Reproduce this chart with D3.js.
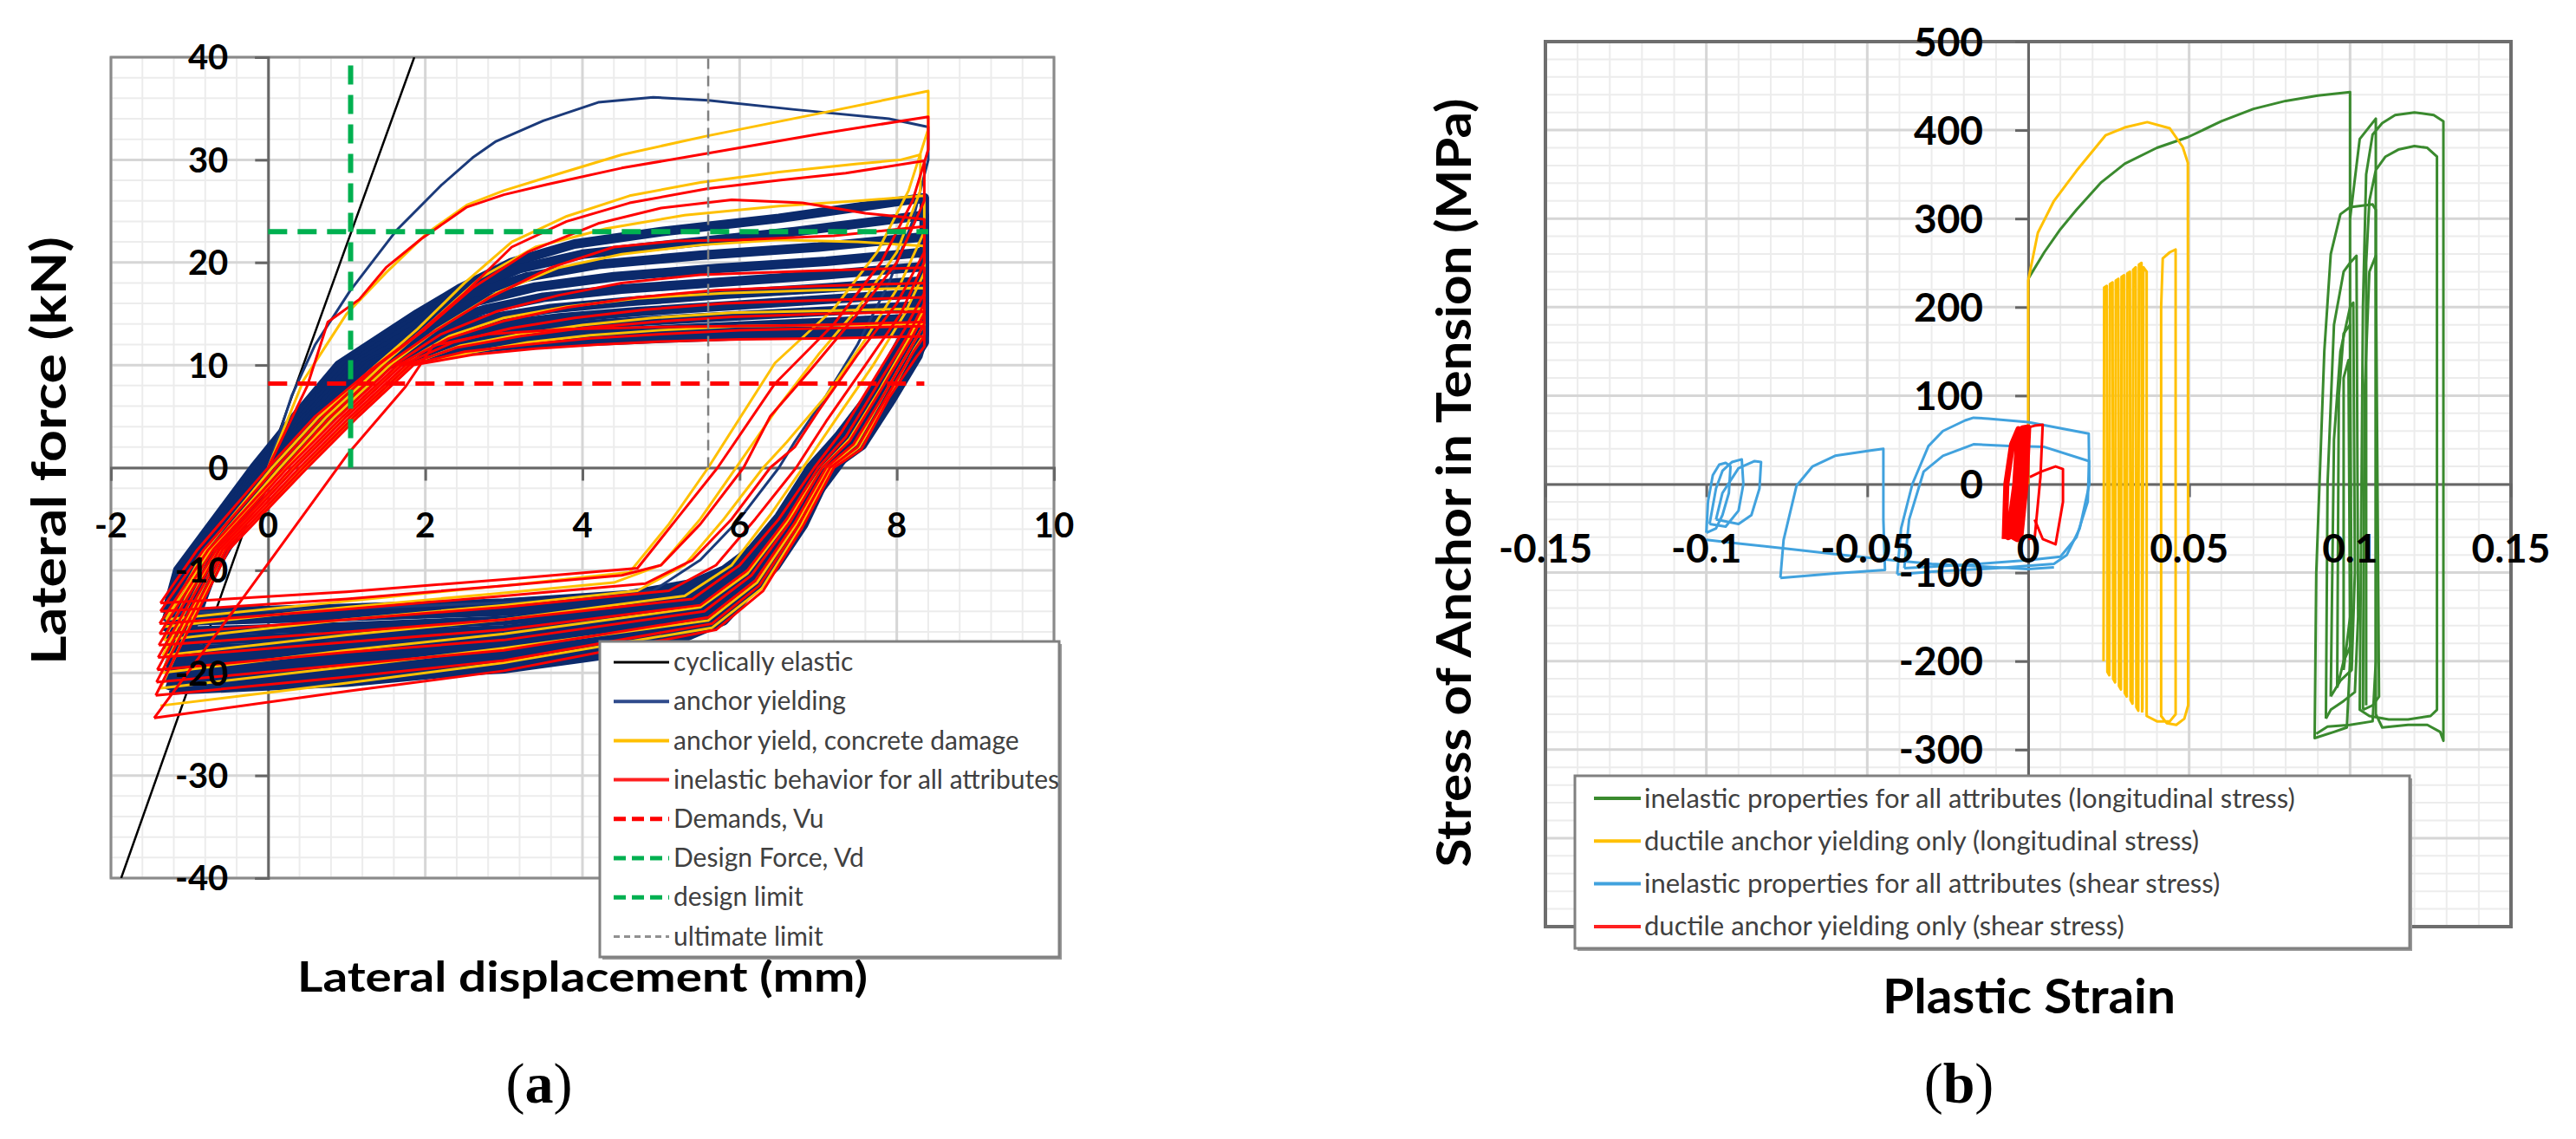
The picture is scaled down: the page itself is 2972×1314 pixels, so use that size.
<!DOCTYPE html>
<html>
<head>
<meta charset="utf-8">
<script src="https://cdn.jsdelivr.net/npm/d3@7"></script>
<style>
  body { margin: 0; background: #fff; }
</style>
</head>
<body>
<div id="chart"></div>
<script>
// ---------- panel (a): lateral displacement (mm) vs lateral force (kN)
const aXTicks = [-2, 0, 2, 4, 6, 8, 10];
const aYTicks = [-40, -30, -20, -10, 0, 10, 20, 30, 40];

const aElastic = [[[-1.87, -40], [0, 0.5], [1.86, 40]]];

const aAnchorEnvelope = [
  [[0,0],[0.3,7],[0.6,12],[1.04,17.2],[1.63,23.1],[2.2,27.5],[2.6,30.2],[2.9,31.8],[3.5,33.8],[4.2,35.6],[4.9,36.1],[5.6,35.8],[6.7,34.9],[7.9,34],[8.4,33.2],[8.4,30],[8.2,24],[7.9,18],[7.5,12],[7.1,7],[6.7,2.5],[6.5,0],[6,-5],[5.5,-9],[4.9,-12],[3.5,-13],[1.5,-13.6],[-1.3,-14.2]]
];

const aAnchorYielding = [
  [[-1.3,-14.2],[-1.15,-10],[-0.18,0],[0.35,5],[0.9,10],[1.9,15],[2.45,17.5],[3.1,20],[3.9,21.8],[5,23],[6.5,24.3],[8.35,26.3],[8.35,19],[8.1,13],[7.7,7.5],[7.25,3],[6.9,0],[6.5,-4.8],[6.15,-8],[5.8,-10],[5.4,-11.3],[4.6,-12.4],[3,-13.2],[1,-13.7],[-1.3,-14.2]],
  [[-1.3,-15],[-1.1,-10],[-0.15,0],[0.4,5],[0.97,10],[1.95,14.8],[2.5,17.2],[3.2,19.4],[4,20.8],[5.2,21.8],[6.7,23],[8.35,24.6],[8.35,18.5],[8.12,12.8],[7.73,7.4],[7.28,2.9],[6.93,0],[6.53,-4.9],[6.18,-8.2],[5.83,-10.3],[5.45,-11.8],[4.65,-13.1],[3,-14],[1,-14.5],[-1.3,-15]],
  [[-1.29,-16],[-1.04,-10],[-0.12,0],[0.45,5],[1.04,10],[2,14.6],[2.55,16.8],[3.3,18.6],[4.2,19.8],[5.5,20.7],[7,21.5],[8.35,22.5],[8.35,17.8],[8.14,12.6],[7.76,7.3],[7.32,2.8],[6.97,0],[6.57,-5],[6.22,-8.4],[5.88,-10.6],[5.5,-12.3],[4.7,-13.8],[3,-14.9],[1,-15.5],[-1.29,-16]],
  [[-1.29,-16.9],[-0.99,-10],[-0.09,0],[0.5,5],[1.1,10],[2.05,14.3],[2.65,16.2],[3.4,17.6],[4.4,18.6],[5.7,19.4],[7.1,20.1],[8.35,21],[8.35,17],[8.16,12.3],[7.79,7.2],[7.36,2.7],[7,0],[6.61,-5.1],[6.26,-8.6],[5.92,-10.9],[5.55,-12.8],[4.75,-14.5],[3,-15.8],[1,-16.4],[-1.29,-16.9]],
  [[-1.28,-17.8],[-0.94,-10],[-0.06,0],[0.55,5],[1.17,10],[2.1,13.9],[2.75,15.4],[3.5,16.6],[4.5,17.4],[5.8,18.1],[7.1,18.8],[8.35,19.6],[8.35,16.2],[8.18,12],[7.82,7.1],[7.4,2.6],[7.04,0],[6.65,-5.2],[6.3,-8.8],[5.96,-11.2],[5.6,-13.3],[4.8,-15.2],[3,-16.6],[1,-17.3],[-1.28,-17.8]],
  [[-1.28,-18.6],[-0.89,-10],[-0.03,0],[0.6,5],[1.24,10],[2.15,13.4],[2.85,14.6],[3.6,15.5],[4.6,16.2],[5.8,16.9],[7.1,17.5],[8.35,18.2],[8.35,15.4],[8.2,11.8],[7.85,7],[7.44,2.5],[7.07,0],[6.69,-5.3],[6.34,-9],[6,-11.5],[5.65,-13.8],[4.85,-15.9],[3,-17.4],[1,-18.1],[-1.28,-18.6]],
  [[-1.27,-19.4],[-0.84,-10],[0,0],[0.65,5],[1.3,10],[2.2,12.9],[2.95,13.9],[3.7,14.6],[4.7,15.2],[5.9,15.8],[7.1,16.4],[8.35,17],[8.35,14.6],[8.22,11.5],[7.88,6.9],[7.48,2.4],[7.1,0],[6.73,-5.4],[6.38,-9.2],[6.04,-11.8],[5.7,-14.2],[4.9,-16.5],[3,-18.2],[1,-18.9],[-1.27,-19.4]],
  [[-1.27,-20.2],[-0.79,-10],[0.03,0],[0.7,5],[1.37,10],[2.25,12.4],[3,13.2],[3.8,13.8],[4.8,14.3],[6,14.8],[7.2,15.3],[8.35,15.8],[8.35,13.8],[8.24,11.2],[7.91,6.8],[7.52,2.3],[7.13,0],[6.77,-5.5],[6.42,-9.4],[6.08,-12],[5.75,-14.6],[4.95,-17],[3,-18.9],[1,-19.7],[-1.27,-20.2]],
  [[-1.26,-21],[-0.74,-10],[0.07,0],[0.75,5],[1.44,10],[2.3,11.9],[3.1,12.6],[3.9,13],[4.9,13.4],[6,13.8],[7.2,14.2],[8.35,14.6],[8.35,13],[8.27,10.9],[7.94,6.7],[7.56,2.2],[7.16,0],[6.81,-5.6],[6.46,-9.6],[6.12,-12.2],[5.8,-14.9],[5,-17.5],[3,-19.6],[1,-20.5],[-1.26,-21]],
  [[-1.26,-21.7],[-0.7,-10],[0.1,0],[0.8,5],[1.5,10],[2.35,11.4],[3.2,12],[4,12.3],[5,12.6],[6.1,12.9],[7.2,13.1],[8.35,13.4],[8.35,12.2],[8.08,9],[7.23,0],[6.45,-8],[6.1,-10.3],[5.72,-12.2],[5,-15.4],[4,-17.9],[3,-19.5],[1,-20.9],[-1.26,-21.7]]
];

const aConcreteDamage = [
  [[0,0],[0.45,8.5],[1,15],[1.5,19],[2.03,22.9],[2.53,25.6],[3,27],[3.55,28.3],[4.5,30.5],[5.57,32.3],[7,34.5],[8.4,36.7],[8.4,33],[8.15,27],[7.75,21],[7.2,15.5],[6.45,10.2],[5.6,0],[5.1,-5.5],[4.6,-10.2],[3,-11.5],[1,-13],[-1.3,-14.8]],
  [[-1.3,-14.8],[-0.8,-8],[0.05,0],[0.65,5],[1.3,9.5],[1.9,13.5],[2.5,18],[3.1,22],[3.8,24.5],[4.6,26.5],[5.5,27.8],[6.5,28.8],[7.5,29.6],[8.05,30],[8.3,30.5],[8.3,27],[8,21],[7.5,15.5],[7,11],[6.5,6],[6,0.5],[5.5,-5],[5,-9.5],[4.4,-11.2],[3,-12.2],[1,-13.6],[-1.32,-15.5]],
  [[-1.32,-15.5],[-0.75,-8],[0.15,0],[0.75,5],[1.45,10],[2.05,14],[2.7,18.5],[3.4,21.5],[4.3,23.3],[5.3,24.6],[6.5,25.5],[7.5,26],[8.35,26.5],[8.35,23],[8.05,18],[7.6,12.5],[7.1,7],[6.6,2.5],[6.3,0],[5.8,-5],[5.3,-9.5],[4.7,-12],[3,-13.4],[1,-14.8],[-1.33,-16.8]],
  [[-1.33,-16.8],[-0.72,-8],[0.22,0],[0.85,5],[1.55,10],[2.15,13.5],[2.9,17],[3.7,19.5],[4.5,20.8],[5.5,21.7],[6.5,22.2],[7.5,22],[8.35,21.6],[8.35,19],[8.1,15],[7.7,10],[7.25,5],[6.85,0.5],[6.4,-4.5],[5.9,-9.5],[5.3,-12.5],[3,-14.8],[1,-16.3],[-1.34,-18.3]],
  [[-1.34,-18.3],[-0.66,-8],[0.32,0],[0.97,5],[1.68,10],[2.3,12.8],[3,14.6],[3.8,15.7],[4.7,16.5],[5.8,17],[7,17.3],[8.35,17.5],[8.35,15.5],[8.15,12.5],[7.8,7.8],[7.4,2.8],[7.05,0],[6.6,-5.3],[6.1,-10.3],[5.5,-13.6],[3,-16.2],[1,-17.8],[-1.36,-20]],
  [[-1.36,-20],[-0.6,-8],[0.42,0],[1.07,5],[1.78,10],[2.45,11.9],[3.2,13],[4,13.9],[4.9,14.6],[5.9,15.1],[7.1,15.3],[8.35,15.5],[8.35,14],[8.2,12],[7.85,7.3],[7.48,2.3],[7.12,0],[6.72,-5.5],[6.22,-11.2],[5.6,-14.9],[3,-17.6],[1,-19.4],[-1.37,-21.5]],
  [[-1.37,-21.5],[-0.55,-8],[0.48,0],[1.12,5],[1.83,10],[2.55,11.2],[3.3,12.2],[4.1,12.9],[5,13.4],[6,13.8],[7.2,13.9],[8.35,14],[8.35,13],[8.22,11.5],[7.9,7],[7.52,2],[7.17,0],[6.78,-5.7],[6.28,-11.8],[5.65,-15.6],[3,-19],[1,-21],[-1.37,-23.2]]
];

const aInelastic = [
  [[0,0],[0.5,8],[0.76,14.2],[1.16,16.4],[1.5,19.5],[1.95,22.3],[2.53,25.4],[3,26.6],[3.55,27.6],[4.5,29.2],[5.57,30.6],[7,32.5],[8.4,34.2],[8.4,31],[8.2,26],[7.8,20],[7.2,14],[6.45,8.2],[5.72,0],[5.2,-5],[4.7,-9.8],[3,-10.9],[1,-12.1],[-1.37,-13.2]],
  [[-1.37,-13.2],[-0.9,-8],[0,0],[0.6,5],[1.3,9.5],[1.9,13],[2.5,17],[3.1,21.5],[3.8,24],[4.6,25.8],[5.6,27.2],[6.5,28],[7.35,28.7],[8.35,29.9],[8.35,26],[8,20],[7.5,15],[6.9,9.5],[6.39,5],[6.05,0],[5.5,-5.5],[5,-9.5],[4.5,-10.5],[3,-11.5],[1,-12.8],[-1.37,-14]],
  [[-1.37,-14],[-0.82,-8],[0.1,0],[0.7,5],[1.4,10],[2,13.5],[2.6,17.5],[3.3,21],[4.2,23.8],[5,25.3],[5.9,26.1],[6.8,25.8],[7.6,24.8],[8.35,24.2],[8.35,21],[8,16],[7.5,11],[7,5.5],[6.7,2],[6.39,0],[5.9,-5],[5.4,-9],[4.8,-11.3],[3,-12.5],[1,-13.8],[-1.38,-15.2]],
  [[-1.38,-15.2],[-0.76,-8],[0.2,0],[0.8,5],[1.5,10],[2.1,13.2],[2.8,16.5],[3.6,19.5],[4.4,21.5],[5.2,22.1],[6,22.2],[7.2,22.6],[8.35,23.5],[8.35,20],[8.05,15],[7.6,10],[7.1,4.5],[6.72,0],[6.2,-5],[5.7,-9.5],[5.1,-12],[3,-13.6],[1,-14.8],[-1.38,-16.2]],
  [[-1.38,-16.2],[-0.7,-8],[0.25,0],[0.9,5],[1.6,10],[2.2,13],[2.9,15.2],[3.7,16.8],[4.5,18],[5.5,18.8],[7,19.2],[8.35,19.5],[8.35,17],[8.1,13.5],[7.7,8.5],[7.3,3.5],[6.95,0],[6.5,-5],[6,-9.5],[5.4,-12.8],[3,-14.8],[1,-16],[-1.39,-17.3]],
  [[-1.39,-17.3],[-0.66,-8],[0.3,0],[0.95,5],[1.65,10],[2.3,12.6],[3,14.3],[3.8,15.6],[4.7,16.6],[5.7,17.3],[7,17.7],[8.35,18],[8.35,16],[8.15,13],[7.75,8],[7.35,3],[7,0],[6.6,-5],[6.1,-10],[5.5,-13.4],[3,-15.8],[1,-17],[-1.4,-18.5]],
  [[-1.4,-18.5],[-0.62,-8],[0.35,0],[1,5],[1.7,10],[2.35,12.2],[3.1,13.6],[3.9,14.6],[4.8,15.4],[5.8,16],[7,16.3],[8.35,16.6],[8.35,15],[8.18,12.5],[7.8,7.6],[7.4,2.6],[7.05,0],[6.65,-5.2],[6.15,-10.5],[5.55,-14],[3,-16.8],[1,-18],[-1.41,-19.7]],
  [[-1.41,-19.7],[-0.58,-8],[0.4,0],[1.05,5],[1.75,10],[2.4,11.7],[3.2,12.8],[4,13.6],[4.9,14.2],[5.9,14.7],[7.1,15],[8.35,15.2],[8.35,14],[8.2,12],[7.85,7.3],[7.45,2.3],[7.1,0],[6.7,-5.4],[6.2,-11],[5.6,-14.6],[3,-17.8],[1,-19.2],[-1.42,-20.9]],
  [[-1.42,-20.9],[-0.54,-8],[0.45,0],[1.1,5],[1.8,10],[2.5,11.3],[3.3,12],[4.1,12.6],[5,13],[6,13.4],[7.2,13.6],[8.35,13.8],[8.35,12.8],[8.22,11.4],[7.88,7],[7.5,2],[7.15,0],[6.75,-5.6],[6.25,-11.5],[5.65,-15.2],[3,-18.8],[1,-20.4],[-1.43,-22.2]],
  [[-1.43,-22.2],[-0.5,-8],[0.5,0],[1.15,5],[1.85,10],[2.6,11],[3.4,11.6],[4.2,12],[5,12.3],[6,12.5],[7.2,12.6],[8.35,12.8],[8.35,11.8],[8.25,10.8],[7.9,6.8],[7.55,1.8],[7.2,0],[6.8,-5.8],[6.3,-12],[5.7,-15.8],[3,-19.8],[1,-21.8],[-1.45,-24.4]],
  [[-1.45,-24.4],[-0.33,-12.8],[0.07,-8.6],[1,1.2],[1.75,7.9],[2.1,11.9],[2.8,13],[3.8,13.5],[5,13.7],[7,13.9],[8.35,14.2]]
];

const aDemand = 8.2;        // Demands, Vu (kN)
const aDesignForce = 23;    // Design Force, Vd (kN)
const aDesignLimit = 1.05;  // mm
const aUltimateLimit = 5.6; // mm

const aLegendLabels = ["cyclically elastic", "anchor yielding", "anchor yield, concrete damage",
  "inelastic behavior for all attributes", "Demands, Vu", "Design Force, Vd", "design limit", "ultimate limit"];

// ---------- panel (b): plastic strain vs stress of anchor in tension (MPa)
const bXTicks = [-0.15, -0.1, -0.05, 0, 0.05, 0.1, 0.15];
const bYTicks = [-500, -400, -300, -200, -100, 0, 100, 200, 300, 400, 500];
const bYLabels = [-300, -200, -100, 0, 100, 200, 300, 400, 500]; // -400 and -500 sit under the legend

const bLongInelastic = [
  [[0,232],[0.005,262],[0.01,288],[0.015,310],[0.0227,341],[0.03,362],[0.04,380],[0.0496,392],[0.06,410],[0.07,424],[0.08,433],[0.09,439],[0.1,443],[0.1,-200],[0.099,-275],[0.095,-280],[0.089,-287],[0.0895,-100],[0.092,150],[0.094,260],[0.097,305],[0.1,313],[0.107,316],[0.108,310],[0.108,-200],[0.107,-268],[0.1,-272],[0.093,-274],[0.0895,-282]],
  [[0.1,300],[0.103,390],[0.108,413],[0.108,-260],[0.11,-275],[0.118,-272],[0.124,-272],[0.128,-280],[0.129,-290],[0.129,300],[0.129,410],[0.126,417],[0.12,420],[0.114,417],[0.11,408],[0.107,395],[0.105,350],[0.104,200],[0.103,-255],[0.106,-262],[0.112,-266],[0.118,-266],[0.125,-262],[0.127,-255],[0.127,370],[0.124,380],[0.12,382],[0.115,378],[0.111,370],[0.108,355],[0.106,320],[0.105,250],[0.105,-250]],
  [[0.0925,-265],[0.093,0],[0.095,180],[0.098,240],[0.1,250],[0.102,258],[0.1025,-150],[0.1015,-235],[0.098,-245],[0.094,-255],[0.0925,-265]],
  [[0.094,-240],[0.095,50],[0.097,150],[0.1,200],[0.101,205],[0.1015,-100],[0.1005,-210],[0.097,-222],[0.094,-240]],
  [[0.096,-230],[0.0965,100],[0.098,170],[0.1,180],[0.1005,-180],[0.098,-200],[0.096,-230]],
  [[0.098,-210],[0.098,120],[0.0995,140],[0.1,-150],[0.098,-210]],
  [[0.104,-255],[0.1045,100],[0.106,240],[0.108,258],[0.109,-240],[0.107,-250],[0.104,-255]]
];

const bLongDuctile = [
  [[0,0],[0,230],[0.003,284],[0.008,320],[0.015,354],[0.024,394],[0.03,403],[0.037,409],[0.044,402],[0.048,381],[0.0496,363],[0.0497,-250],[0.0485,-265],[0.046,-272],[0.043,-270],[0.0413,-262],[0.0413,200],[0.0418,255],[0.044,262],[0.0458,265],[0.0458,-260],[0.044,-268],[0.04,-268],[0.0368,-262],[0.0368,240],[0.0358,245],[0.0355,-255]],
  [[0.0234,-200],[0.0236,222],[0.0244,224],[0.0246,-212],[0.0252,-216],[0.0254,226],[0.0262,228],[0.0264,-220],[0.027,-224],[0.0272,230],[0.028,232],[0.0282,-228],[0.0288,-232],[0.029,234],[0.0298,236],[0.03,-236],[0.0306,-240],[0.0308,238],[0.0316,240],[0.0318,-244],[0.0324,-248],[0.0326,242],[0.0334,245],[0.0336,-252],[0.0342,-256],[0.0344,248],[0.0352,250],[0.0354,-258]]
];

const bShearInelastic = [
  [[-0.1,-55],[-0.0995,-20],[-0.098,10],[-0.096,22],[-0.094,24],[-0.0925,20],[-0.093,-10],[-0.095,-35],[-0.097,-50],[-0.1,-55]],
  [[-0.099,-45],[-0.097,-5],[-0.095,15],[-0.092,25],[-0.089,28],[-0.0885,0],[-0.09,-30],[-0.094,-48],[-0.099,-45]],
  [[-0.097,-40],[-0.095,-10],[-0.09,18],[-0.085,26],[-0.083,25],[-0.0835,-5],[-0.086,-35],[-0.09,-45],[-0.097,-40]],
  [[-0.1,-63],[-0.09,-67],[-0.075,-73],[-0.06,-79],[-0.045,-85],[-0.03,-90],[-0.015,-93],[0,-96],[0.008,-94]],
  [[-0.077,-106],[-0.076,-63],[-0.072,-2],[-0.067,20],[-0.06,32],[-0.049,38],[-0.045,40],[-0.045,-40],[-0.0445,-97],[-0.06,-101],[-0.077,-106]],
  [[-0.0407,-102],[-0.0395,-50],[-0.036,0],[-0.031,43],[-0.0265,60],[-0.0196,72],[-0.017,75],[-0.0124,74],[0,70],[0.0188,57],[0.019,0],[0.016,-50],[0.012,-80],[0.008,-90],[-0.01,-95],[-0.03,-99],[-0.0407,-102]],
  [[-0.0385,-95],[-0.037,-40],[-0.0325,14],[-0.0265,32],[-0.017,45],[-0.006,43],[0.005,42],[0.0189,26],[0.0185,-20],[0.015,-60],[0.01,-82],[0,-86],[-0.015,-90],[-0.0385,-95]]
];

const bShearDuctileCore = [
  [[-0.0073,-62],[-0.0068,0],[-0.005,45],[-0.003,62],[-0.004,0],[-0.0062,-60],[-0.0052,-58],[-0.0032,0],[-0.0018,63],[-0.0002,64],[-0.002,0],[-0.0045,-60],[-0.0035,-62],[-0.0012,0],[0,64],[-0.0008,0],[-0.0025,-62]]
];

const bShearDuctile = [
  [[0,64],[0.002,66],[0.0045,67],[0.0038,8],[0.002,-61],[0,-62]],
  [[0.0005,8],[0.004,14],[0.0085,20],[0.0108,17],[0.0108,-20],[0.0085,-68],[0.0045,-62],[0.002,-40]]
];

const bLegendLabels = ["inelastic properties for all attributes (longitudinal stress)",
  "ductile anchor yielding only (longitudinal stress)",
  "inelastic properties for all attributes (shear stress)",
  "ductile anchor yielding only (shear stress)"];

// ---------- drawing
const width = 2972, height = 1314;
const sans = "Lato, 'DejaVu Sans', sans-serif";

const svg = d3.select("#chart").append("svg")
  .attr("width", width)
  .attr("height", height)
  .style("display", "block");

svg.append("rect").attr("width", width).attr("height", height).attr("fill", "#fff");

function drawPanel(p) {
  const x = d3.scaleLinear().domain(p.xDomain).range([p.left, p.right]);
  const y = d3.scaleLinear().domain(p.yDomain).range([p.bottom, p.top]);
  const g = svg.append("g");

  // minor and major grid
  g.append("g").selectAll("line").data(p.xMinor).join("line")
    .attr("x1", d => x(d)).attr("x2", d => x(d)).attr("y1", p.top).attr("y2", p.bottom)
    .attr("stroke", "#ececec").attr("stroke-width", 2);
  g.append("g").selectAll("line").data(p.yMinor).join("line")
    .attr("y1", d => y(d)).attr("y2", d => y(d)).attr("x1", p.left).attr("x2", p.right)
    .attr("stroke", "#ececec").attr("stroke-width", 2);
  g.append("g").selectAll("line").data(p.xTicks).join("line")
    .attr("x1", d => x(d)).attr("x2", d => x(d)).attr("y1", p.top).attr("y2", p.bottom)
    .attr("stroke", "#d6d6d6").attr("stroke-width", 3);
  g.append("g").selectAll("line").data(p.yTicks).join("line")
    .attr("y1", d => y(d)).attr("y2", d => y(d)).attr("x1", p.left).attr("x2", p.right)
    .attr("stroke", "#d6d6d6").attr("stroke-width", 3);

  // plot border
  g.append("rect")
    .attr("x", p.left).attr("y", p.top)
    .attr("width", p.right - p.left).attr("height", p.bottom - p.top)
    .attr("fill", "none").attr("stroke", p.borderColor).attr("stroke-width", p.borderWidth);

  // axes through the origin
  const yAxis = d3.axisLeft(y).tickValues(p.yTicks).tickSize(15);
  const xAxis = d3.axisBottom(x).tickValues(p.xTicks).tickSize(15);

  const gy = g.append("g").attr("transform", `translate(${x(0)},0)`).call(yAxis);
  const gx = g.append("g").attr("transform", `translate(0,${y(0)})`).call(xAxis);
  [gy, gx].forEach(a => {
    a.select(".domain").attr("stroke", "#666").attr("stroke-width", 3);
    a.selectAll(".tick line").attr("stroke", "#666").attr("stroke-width", 3);
    a.selectAll(".tick text").remove();
  });

  // curves
  const clipId = "clip-" + p.name;
  svg.append("clipPath").attr("id", clipId).append("rect")
    .attr("x", p.left).attr("y", p.top)
    .attr("width", p.right - p.left).attr("height", p.bottom - p.top);

  const line = d3.line().x(d => x(d[0])).y(d => y(d[1]));
  const curves = g.append("g").attr("clip-path", `url(#${clipId})`);

  p.series.forEach(s => {
    if (s.loops) {
      curves.append("g").selectAll("path").data(s.loops).join("path")
        .attr("d", line)
        .attr("fill", "none")
        .attr("stroke", s.color)
        .attr("stroke-width", s.width)
        .attr("stroke-linejoin", "round");
    } else if (s.hline !== undefined) {
      curves.append("line")
        .attr("x1", x(s.from)).attr("x2", x(s.to))
        .attr("y1", y(s.hline)).attr("y2", y(s.hline))
        .attr("stroke", s.color).attr("stroke-width", s.width)
        .attr("stroke-dasharray", s.dash);
    } else if (s.vline !== undefined) {
      curves.append("line")
        .attr("x1", x(s.vline)).attr("x2", x(s.vline))
        .attr("y1", y(s.from)).attr("y2", y(s.to))
        .attr("stroke", s.color).attr("stroke-width", s.width)
        .attr("stroke-dasharray", s.dash);
    }
  });

  // tick labels
  g.append("g").selectAll("text").data(p.yLabels).join("text")
    .attr("x", x(0) - p.yLabelGap)
    .attr("y", d => y(d))
    .attr("dy", "0.36em")
    .attr("text-anchor", "end")
    .style("font-family", sans)
    .attr("font-size", p.tickFont)
    .attr("font-weight", "bold")
    .attr("fill", "#000")
    .text(d => String(d));

  g.append("g").selectAll("text").data(p.xTicks).join("text")
    .attr("x", d => x(d))
    .attr("y", y(0) + p.xLabelGap)
    .attr("dy", "0.36em")
    .attr("text-anchor", "middle")
    .style("font-family", sans)
    .attr("font-size", p.tickFont)
    .attr("font-weight", "bold")
    .attr("fill", "#000")
    .text(d => String(d));

  // axis titles
  g.append("text")
    .attr("transform", `translate(${p.yTitleX},${p.yTitleY}) rotate(-90)`)
    .attr("text-anchor", "middle")
    .attr("dy", "0.36em")
    .style("font-family", sans)
    .attr("font-weight", "bold")
    .attr("font-size", p.yTitleSize)
    .attr("textLength", p.yTitleLength)
    .attr("lengthAdjust", "spacingAndGlyphs")
    .text(p.yTitle);

  g.append("text")
    .attr("x", p.xTitleX).attr("y", p.xTitleY)
    .attr("text-anchor", "middle")
    .style("font-family", sans)
    .attr("font-weight", "bold")
    .attr("font-size", p.xTitleSize)
    .attr("textLength", p.xTitleLength)
    .attr("lengthAdjust", "spacingAndGlyphs")
    .text(p.xTitle);

  // legend
  const L = p.legend;
  const lg = g.append("g");
  lg.append("rect")
    .attr("x", L.x + 3).attr("y", L.y + 3).attr("width", L.w).attr("height", L.h)
    .attr("fill", "#9a9a9a");
  lg.append("rect")
    .attr("x", L.x).attr("y", L.y).attr("width", L.w).attr("height", L.h)
    .attr("fill", "#fff").attr("stroke", "#808080").attr("stroke-width", 3);

  const rows = lg.selectAll("g.row").data(L.items).join("g")
    .attr("transform", (d, i) => `translate(0,${L.firstRow + i * L.rowStep})`);
  rows.append("line")
    .attr("x1", L.lineX1).attr("x2", L.lineX2)
    .attr("stroke", d => d.color)
    .attr("stroke-width", d => d.lw)
    .attr("stroke-dasharray", d => d.dash || null);
  rows.append("text")
    .attr("x", L.textX)
    .attr("dy", "0.34em")
    .style("font-family", sans)
    .attr("font-size", L.fontSize)
    .attr("fill", "#404040")
    .text(d => d.label);

  // caption
  const cap = g.append("text")
    .attr("x", p.capX).attr("y", p.capY)
    .attr("text-anchor", "middle")
    .style("font-family", "'Liberation Serif', 'DejaVu Serif', serif")
    .attr("font-size", 66);
  cap.append("tspan").text("(");
  cap.append("tspan").attr("font-weight", "bold").text(p.caption);
  cap.append("tspan").text(")");
}

drawPanel({
  name: "a",
  xDomain: [-2, 10], yDomain: [-40, 40],
  left: 128, right: 1216, top: 66, bottom: 1013,
  xTicks: aXTicks, yTicks: aYTicks, yLabels: aYTicks,
  xMinor: d3.range(-2, 10.001, 0.4), yMinor: d3.range(-40, 40.001, 2),
  borderColor: "#8a8a8a", borderWidth: 3,
  tickFont: 40, yLabelGap: 46, xLabelGap: 66,
  series: [
    { loops: aElastic, color: "#000", width: 2.5 },
    { loops: aAnchorYielding, color: "#0b2a6c", width: 11 },
    { loops: aAnchorEnvelope, color: "#1b3a7a", width: 3 },
    { loops: aConcreteDamage, color: "#ffc000", width: 3 },
    { loops: aInelastic, color: "#ff0000", width: 3 },
    { hline: aDemand, from: 0, to: 8.35, color: "#ff0000", width: 5, dash: "22 12" },
    { hline: aDesignForce, from: 0, to: 8.4, color: "#00b050", width: 6, dash: "22 12" },
    { vline: aDesignLimit, from: 0, to: 40, color: "#00b050", width: 6, dash: "22 12" },
    { vline: aUltimateLimit, from: 0, to: 40, color: "#808080", width: 2.5, dash: "12 8" }
  ],
  yTitle: "Lateral force (kN)", yTitleX: 56, yTitleY: 520, yTitleSize: 56, yTitleLength: 494,
  xTitle: "Lateral displacement (mm)", xTitleX: 672, xTitleY: 1144, xTitleSize: 47, xTitleLength: 658,
  legend: {
    x: 692, y: 740, w: 530, h: 364,
    firstRow: 764, rowStep: 45.2,
    lineX1: 708, lineX2: 772, textX: 777, fontSize: 30,
    items: [
      { label: aLegendLabels[0], color: "#000", lw: 3 },
      { label: aLegendLabels[1], color: "#2f4b8c", lw: 4 },
      { label: aLegendLabels[2], color: "#ffc000", lw: 4 },
      { label: aLegendLabels[3], color: "#ff2020", lw: 4 },
      { label: aLegendLabels[4], color: "#ff0000", lw: 5, dash: "14 7" },
      { label: aLegendLabels[5], color: "#00b050", lw: 5, dash: "14 7" },
      { label: aLegendLabels[6], color: "#00b050", lw: 5, dash: "14 7" },
      { label: aLegendLabels[7], color: "#909090", lw: 3, dash: "7 5" }
    ]
  },
  caption: "a", capX: 622, capY: 1272
});

drawPanel({
  name: "b",
  xDomain: [-0.15, 0.15], yDomain: [-500, 500],
  left: 1783, right: 2897, top: 48, bottom: 1069,
  xTicks: bXTicks, yTicks: bYTicks, yLabels: bYLabels,
  xMinor: d3.range(-0.15, 0.1501, 0.01), yMinor: d3.range(-500, 501, 20),
  borderColor: "#6e6e6e", borderWidth: 4,
  tickFont: 46, yLabelGap: 52, xLabelGap: 74,
  series: [
    { loops: bLongInelastic, color: "#3a8a2e", width: 3 },
    { loops: bLongDuctile, color: "#ffc000", width: 3 },
    { loops: bShearInelastic, color: "#41a2de", width: 3 },
    { loops: bShearDuctileCore, color: "#ff0000", width: 7 },
    { loops: bShearDuctile, color: "#ff0000", width: 3 }
  ],
  yTitle: "Stress of Anchor in Tension (MPa)", yTitleX: 1677, yTitleY: 557, yTitleSize: 55, yTitleLength: 887,
  xTitle: "Plastic Strain", xTitleX: 2341, xTitleY: 1169, xTitleSize: 56, xTitleLength: 338,
  legend: {
    x: 1817, y: 895, w: 963, h: 199,
    firstRow: 921, rowStep: 49.3,
    lineX1: 1839, lineX2: 1893, textX: 1897, fontSize: 31,
    items: [
      { label: bLegendLabels[0], color: "#3a8a2e", lw: 4 },
      { label: bLegendLabels[1], color: "#ffc000", lw: 4 },
      { label: bLegendLabels[2], color: "#41a2de", lw: 4 },
      { label: bLegendLabels[3], color: "#ff2020", lw: 4 }
    ]
  },
  caption: "b", capX: 2260, capY: 1272
});
</script>
</body>
</html>
